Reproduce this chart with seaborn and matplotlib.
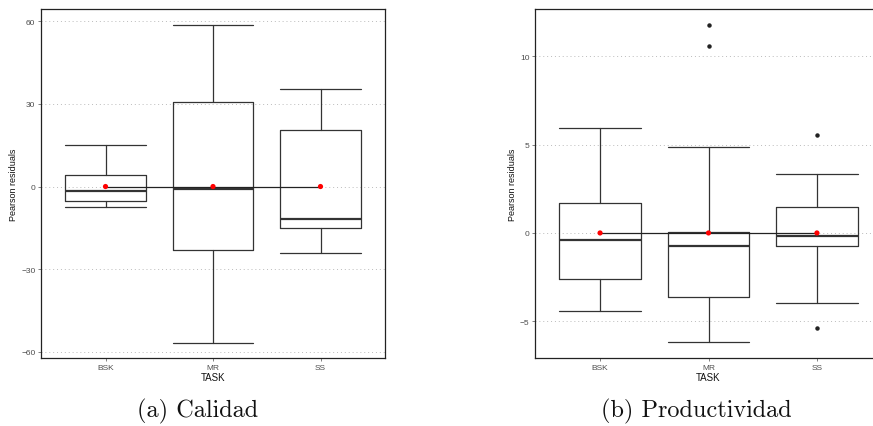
import matplotlib
matplotlib.use("Agg")
import matplotlib.pyplot as plt
import seaborn as sns
import pandas as pd

# ---- data ----
tasks = ["BSK", "MR", "SS"]

# (a) Calidad
cal_whislo = [-7.3, -56.7, -24.1]
cal_q1 = [-5.3, -23.1, -15.0]
cal_med = [-1.6, -0.9, -11.7]
cal_q3 = [4.3, 30.7, 20.4]
cal_whishi = [15.2, 58.7, 35.3]
cal_fliers = [[], [], []]
cal_mean = [0.0, 0.0, 0.0]
cal_yticks = [-60, -30, 0, 30, 60]

# (b) Productividad
prod_whislo = [-4.43, -6.19, -3.98]
prod_q1 = [-2.62, -3.60, -0.75]
prod_med = [-0.38, -0.75, -0.17]
prod_q3 = [1.70, 0.08, 1.47]
prod_whishi = [5.93, 4.85, 3.36]
prod_fliers = [[], [11.76, 10.61], [5.55, -5.36]]
prod_mean = [0.0, 0.0, 0.0]
prod_yticks = [-5, 0, 5, 10]

captions = ["(a) Calidad", "(b) Productividad"]
ylabel = "Pearson residuals"
xlabel = "TASK"

sns.set_theme(style="white")
plt.rcParams["font.family"] = ["Liberation Sans", "DejaVu Sans"]

fig = plt.figure(figsize=(8.73, 4.27), dpi=100)
ax1 = fig.add_axes([41 / 873, 1 - 359 / 427, 344 / 873, 349 / 427])
ax2 = fig.add_axes([535 / 873, 1 - 359 / 427, 347 / 873, 349 / 427])


def draw(ax, whislo, q1, med, q3, whishi, fliers, means, yticks, ylim):
    stats = []
    for i, t in enumerate(tasks):
        stats.append(dict(label=t, whislo=whislo[i], q1=q1[i], med=med[i],
                          q3=q3[i], whishi=whishi[i], fliers=fliers[i]))
    ax.bxp(stats, positions=range(len(tasks)), widths=0.75,
           showfliers=True, patch_artist=False, capwidths=0.75,
           boxprops=dict(color="#333333", linewidth=0.9),
           whiskerprops=dict(color="#333333", linewidth=0.9),
           capprops=dict(color="#333333", linewidth=0.9),
           medianprops=dict(color="#333333", linewidth=1.6),
           flierprops=dict(marker="o", markersize=2.2, markerfacecolor="#222222",
                           markeredgecolor="#222222", linestyle="none"))
    df = pd.DataFrame({"TASK": tasks, "mean": means})
    sns.lineplot(data=df, x="TASK", y="mean", ax=ax, color="#222222",
                 linewidth=0.9, sort=False)
    sns.scatterplot(data=df, x="TASK", y="mean", ax=ax, color="red",
                    s=14, edgecolor="none", zorder=5)
    ax.set_xlim(-0.6, 2.6)
    ax.set_ylim(*ylim)
    ax.set_yticks(yticks)
    ax.set_xticks(range(len(tasks)))
    ax.set_xticklabels(tasks)
    ax.yaxis.grid(True, linestyle=(0, (1, 3)), color="#BBBBBB", linewidth=0.7)
    ax.xaxis.grid(False)
    ax.set_axisbelow(True)
    ax.tick_params(axis="both", which="major", labelsize=6, labelcolor="#4D4D4D",
                   length=2, width=0.5, color="#4D4D4D", pad=2,
                   left=True, bottom=True)
    for s in ax.spines.values():
        s.set_visible(True)
        s.set_color("#222222")
        s.set_linewidth(0.9)
    ax.set_xlabel(xlabel, fontsize=7, labelpad=1, color="#111111")
    ax.set_ylabel(ylabel, fontsize=6.5, labelpad=2, color="#111111")


draw(ax1, cal_whislo, cal_q1, cal_med, cal_q3, cal_whishi, cal_fliers,
     cal_mean, cal_yticks, (-62.3, 64.5))
draw(ax2, prod_whislo, prod_q1, prod_med, prod_q3, prod_whishi, prod_fliers,
     prod_mean, prod_yticks, (-7.08, 12.68))

fig.text(198 / 873, 1 - 411 / 427, captions[0], family="cmr10", fontsize=17.5,
         ha="center", va="center", color="#111111")
fig.text(696 / 873, 1 - 411 / 427, captions[1], family="cmr10", fontsize=17.5,
         ha="center", va="center", color="#111111")

fig.savefig("out.png", dpi=100)
